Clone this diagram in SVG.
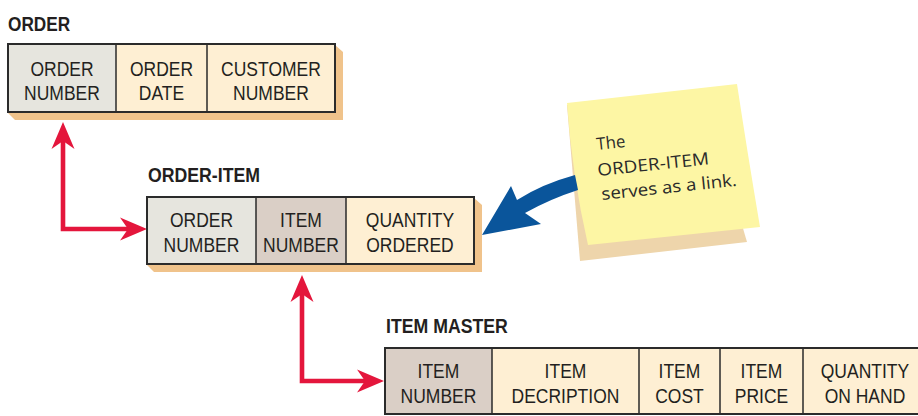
<svg xmlns="http://www.w3.org/2000/svg" width="918" height="416" viewBox="0 0 918 416">
<defs>
<style>
.lbl{font-family:"Liberation Sans",Arial,sans-serif;font-weight:bold;font-size:21px;fill:#231f20}
.cell{font-family:"Liberation Sans",Arial,sans-serif;font-size:21px;fill:#231f20;text-anchor:middle}
.gray{fill:#e6e5de}
.tan{fill:#dacfc6}
.cream{fill:#feefd3}
.div{stroke:#2b2b2b;stroke-width:1.5;fill:none}
.frame{stroke:#2b2b2b;stroke-width:2;fill:none}
.shadow{fill:#f0c38b}
.red{stroke:#e4163c;stroke-width:4.6;fill:none}
.note{font-family:"Open Sans","DejaVu Sans",sans-serif;font-size:17px;fill:#2a2a2a}
</style>
<marker id="ah" markerUnits="userSpaceOnUse" orient="auto-start-reverse" viewBox="-28 -12 30 24" markerWidth="30" markerHeight="24" refX="-19" refY="0">
<path d="M0,0 L-27,-11.5 L-19,0 L-27,11.5 Z" fill="#e4163c"/>
</marker>
</defs>
<rect width="918" height="416" fill="#ffffff"/>

<g id="connectors">
<path class="red" d="M63,141 L63,229 L128,229" marker-start="url(#ah)" marker-end="url(#ah)"/>
<path class="red" d="M302,294 L302,381 L365,381" marker-start="url(#ah)" marker-end="url(#ah)"/>
</g>

<g id="order">
<text class="lbl" transform="translate(8 31) scale(0.82 1)">ORDER</text>
<polygon class="shadow" points="335,45 343,52 343,120 15,120 8,113"/>
<rect class="gray" x="8" y="44" width="108" height="68"/>
<rect class="cream" x="116" y="44" width="91" height="68"/>
<rect class="cream" x="207" y="44" width="128" height="68"/>
<path class="div" d="M116,44 V112 M207,44 V112"/>
<rect class="frame" x="8" y="44" width="327" height="68"/>
<g transform="scale(0.8333 1)">
<text class="cell" x="74.4" y="76">ORDER</text>
<text class="cell" x="74.4" y="100">NUMBER</text>
<text class="cell" x="193.8" y="76">ORDER</text>
<text class="cell" x="193.8" y="100">DATE</text>
<text class="cell" x="325.2" y="76">CUSTOMER</text>
<text class="cell" x="325.2" y="100">NUMBER</text>
</g>
</g>

<g id="order-item">
<text class="lbl" transform="translate(148 182) scale(0.842 1)">ORDER-ITEM</text>
<polygon class="shadow" points="474,198 482,205 482,272 154,272 147,265"/>
<rect class="gray" x="147" y="197" width="109" height="67"/>
<rect class="tan" x="256" y="197" width="90" height="67"/>
<rect class="cream" x="346" y="197" width="128" height="67"/>
<path class="div" d="M256,197 V264 M346,197 V264"/>
<rect class="frame" x="147" y="197" width="327" height="67"/>
<g transform="scale(0.8333 1)">
<text class="cell" x="241.8" y="227">ORDER</text>
<text class="cell" x="241.8" y="252">NUMBER</text>
<text class="cell" x="361.2" y="227">ITEM</text>
<text class="cell" x="361.2" y="252">NUMBER</text>
<text class="cell" x="492" y="227">QUANTITY</text>
<text class="cell" x="492" y="252">ORDERED</text>
</g>
</g>

<g id="item-master">
<text class="lbl" transform="translate(386 333) scale(0.843 1)">ITEM MASTER</text>
<rect class="tan" x="385" y="348" width="107" height="66"/>
<rect class="cream" x="492" y="348" width="147" height="66"/>
<rect class="cream" x="639" y="348" width="81" height="66"/>
<rect class="cream" x="720" y="348" width="83" height="66"/>
<rect class="cream" x="803" y="348" width="127" height="66"/>
<path class="div" d="M492,348 V414 M639,348 V414 M720,348 V414 M803,348 V414"/>
<rect class="frame" x="385" y="348" width="545" height="66"/>
<g transform="scale(0.8333 1)">
<text class="cell" x="526.2" y="378">ITEM</text>
<text class="cell" x="526.2" y="403">NUMBER</text>
<text class="cell" x="678.6" y="378">ITEM</text>
<text class="cell" x="678.6" y="403">DECRIPTION</text>
<text class="cell" x="815.4" y="378">ITEM</text>
<text class="cell" x="815.4" y="403">COST</text>
<text class="cell" x="913.8" y="378">ITEM</text>
<text class="cell" x="913.8" y="403">PRICE</text>
<text class="cell" x="1038" y="378">QUANTITY</text>
<text class="cell" x="1038" y="403">ON HAND</text>
</g>
</g>

<g id="note">
<polygon points="567,105 580,261 747,242 742,225 700,110" fill="#eed5ab"/>
<path d="M567,103 L737,84 Q747,150 760,227 L588,245 Q572,175 567,103 Z" fill="#fdf6a4"/>
<text class="note" x="597" y="150" transform="rotate(-6 597 150)" textLength="29" lengthAdjust="spacingAndGlyphs">The</text>
<text class="note" x="598" y="176" transform="rotate(-6 598 176)" textLength="112" lengthAdjust="spacingAndGlyphs">ORDER-ITEM</text>
<text class="note" x="602" y="200" transform="rotate(-6 602 200)" textLength="136" lengthAdjust="spacingAndGlyphs">serves as a link.</text>
</g>

<g id="callout">
<path d="M575,175 Q542,184 517,200 L511,186 L482,235 L541,224 L525,213 Q550,199 578,190 Z" fill="#0a559b"/>
</g>
</svg>
